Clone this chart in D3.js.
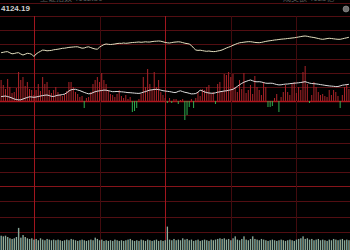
<!DOCTYPE html>
<html>
<head>
<meta charset="utf-8">
<script src="https://cdn.jsdelivr.net/npm/d3@7"></script>
<style>
  html, body { margin: 0; padding: 0; background: #000; overflow: hidden; }
</style>
</head>
<body>
<div id="chart"></div>
<script>
// intraday index chart, values are points above previous close
const prevClose = 4081.69;
const topValue = 4124.19;
const minutes = 160;

const equalChg = [
  24.15, 24.35, 24.6, 24.65, 24.1, 23.6, 23.75, 24.05, 24.15, 23.5,
  23.0, 23.4, 23.85, 23.7, 23.35, 22.25, 23.5, 24.25, 24.85, 25.45,
  25.35, 25.1, 25.2, 25.3, 25.6, 25.75, 25.9, 26.1, 26.35, 26.4,
  26.6, 26.8, 26.9, 27.0, 27.1, 27.1, 26.75, 26.4, 26.5, 26.9,
  27.1, 26.7, 26.3, 26.0, 25.9, 26.9, 27.6, 28.2, 28.5, 28.35,
  28.25, 28.35, 28.5, 28.7, 28.85, 28.8, 29.0, 28.85, 28.95, 29.1,
  29.25, 29.3, 29.4, 29.5, 29.35, 29.45, 29.6, 29.5, 29.5, 29.7,
  29.85, 29.9, 30.0, 29.9, 29.6, 29.3, 29.1, 29.0, 29.2, 29.4,
  29.5, 29.6, 29.5, 29.2, 28.9, 28.7, 28.5, 27.75, 26.5, 25.5,
  25.3, 25.4, 25.2, 25.0, 24.85, 25.0, 24.8, 24.7, 24.75, 25.0,
  25.2, 25.5, 26.0, 26.5, 26.9, 27.3, 27.85, 28.3, 28.75, 29.1,
  29.25, 29.4, 29.55, 29.65, 29.65, 29.5, 29.3, 29.2, 29.15, 29.3,
  29.55, 29.8, 30.0, 30.15, 30.3, 30.5, 30.6, 30.75, 30.9, 31.0,
  31.1, 31.25, 31.35, 31.5, 31.6, 31.8, 32.0, 32.2, 32.4, 32.5,
  32.35, 32.1, 31.9, 31.75, 31.5, 31.25, 31.0, 30.85, 31.0, 31.2,
  31.35, 31.25, 31.1, 30.95, 30.85, 30.85, 31.1, 31.35, 31.6, 31.85
];

const weightedChg = [
  2.2, 2.35, 2.5, 2.2, 1.9, 1.5, 1.0, 0.75, 0.55, 0.6,
  1.0, 1.4, 1.75, 2.1, 2.0, 1.85, 2.0, 2.25, 2.5, 2.7,
  2.9, 3.0, 2.7, 2.35, 2.25, 2.6, 2.9, 3.0, 3.2, 3.45,
  4.1, 5.0, 5.6, 5.8, 5.85, 5.5, 5.2, 4.75, 4.3, 3.9,
  3.6, 3.7, 4.2, 4.65, 4.9, 5.1, 5.25, 5.45, 5.4, 5.15,
  4.9, 4.65, 4.7, 4.75, 4.65, 4.6, 4.5, 4.35, 4.2, 4.15,
  4.05, 3.95, 3.85, 3.8, 4.0, 4.4, 4.7, 5.1, 5.45, 5.6,
  5.75, 5.85, 5.7, 5.45, 5.15, 5.0, 4.85, 4.7, 4.5, 4.25,
  4.3, 4.8, 5.1, 4.7, 4.35, 4.15, 3.85, 3.55, 3.6, 3.75,
  4.4, 5.4, 5.05, 4.55, 4.2, 4.0, 3.9, 3.85, 4.1, 4.4,
  4.6, 4.8, 5.0, 5.1, 5.35, 5.6, 5.85, 6.5, 7.3, 8.1,
  8.8, 9.4, 9.8, 10.2, 10.5, 10.1, 9.7, 9.6, 9.65, 9.5,
  9.2, 8.9, 8.85, 8.9, 8.85, 8.55, 8.25, 8.05, 8.1, 8.3,
  8.45, 8.5, 8.65, 8.8, 8.9, 9.0, 9.1, 9.25, 9.45, 9.65,
  9.3, 8.95, 8.75, 8.65, 8.55, 8.4, 8.2, 8.05, 7.85, 7.7,
  7.55, 7.45, 7.35, 7.2, 7.25, 7.55, 7.9, 8.05, 8.2, 8.35
];

// red (up) / green (down) strength bars
const strength = [
  21, 16, 12, 22, 14, 8, 9, 13, 29, 21,
  24, 15, 19, 12, 11, 6, 11, 17, 10, 24,
  17, 19, 11, 8, 11, 14, 9, 7, 5, 7,
  10, 19, 19, 14, 9, 7, 4, 5, -7, 3,
  4, 9, 17, 21, 24, 19, 28, 21, 17, 11,
  7, 6, 4, 7, 11, 5, 3, 6, 2, 4,
  -11, -10, -7, 2, 7, 24, 14, 32, 17, 11,
  29, 14, 21, 9, 6, 3, -2, 3, -2, 2,
  2, -3, 1, 2, -19, -14, -6, 2, -7, 3,
  9, 5, 12, 11, 14, 16, 7, 9, -3, 17,
  19, 10, 27, 26, 29, 24, 27, 14, 9, 21,
  12, 28, 8, 11, 16, 7, 25, 14, 11, 6,
  19, 14, -6, -6, -5, 3, 7, -11, 4, 9,
  16, 9, 6, 17, 19, 8, 14, 11, 29, 35,
  17, -2, 6, 19, 14, 9, 6, 7, 5, 4,
  11, 6, 11, 9, 5, -7, 6, 14, 17, 12
];

const volume = [
  22, 21, 22, 20, 18, 17, 18, 20, 34, 19,
  23, 20, 18, 17, 18, 16, 17, 15, 18, 16,
  15, 17, 16, 15, 16, 15, 16, 15, 14, 15,
  16, 15, 17, 16, 15, 14, 15, 16, 15, 14,
  15, 16, 15, 19, 17, 15, 16, 14, 15, 14,
  15, 14, 16, 15, 14, 15, 14, 15, 16, 17,
  15, 14, 15, 14, 16, 15, 14, 16, 15, 14,
  15, 16, 14, 15, 14, 15, 36, 16, 15, 17,
  15, 16, 15, 18, 16, 17, 15, 16, 14, 15,
  16, 14, 15, 16, 15, 14, 16, 15, 16, 17,
  18, 17, 18, 16, 17, 15, 18, 21, 16, 15,
  17, 21, 16, 15, 17, 21, 17, 16, 15, 17,
  16, 15, 14, 15, 16, 15, 14, 15, 16, 15,
  14, 15, 16, 15, 14, 16, 17, 18, 21, 17,
  18, 16, 17, 15, 16, 17, 15, 16, 15, 14,
  16, 15, 17, 16, 15, 16, 17, 15, 16, 15
];

const timeMarks = [15, 45, 75, 105, 135];
const strongMarks = [15, 75];
const gridLevels = [-6, -5, -4, -3, -2, -1, 0, 1, 2, 3, 4, 5, 6];
const volumeGrid = [28, 51, 75];
const headerTexts = [
  { x: 40, text: "上证指数 4112.30" },
  { x: 283, text: "成交额 4125亿" }
];

const width = 350;
const height = 250;
const crisp = (v) => Math.round(v) + 0.5;

const svg = d3
  .select("#chart")
  .append("svg")
  .attr("width", width)
  .attr("height", height)
  .style("display", "block")
  .style("background", "#000");

const span = topValue - prevClose;
const x = d3.scaleLinear().domain([0, minutes]).range([0, width]);
const y = d3
  .scaleLinear()
  .domain([prevClose - span, prevClose + span])
  .range([186, 16]);
const yStrength = d3.scaleLinear().domain([-85, 85]).range([186, 16]);
const yVolume = d3.scaleLinear().domain([0, 100]).range([250, 185]);

// header (top row is cut by the frame)
svg
  .selectAll(".head")
  .data(headerTexts)
  .enter()
  .append("text")
  .attr("x", (d) => d.x)
  .attr("y", 1)
  .attr("fill", "#5c5c5c")
  .style("font", "8px 'Noto Sans CJK SC', sans-serif")
  .text((d) => d.text);

svg
  .append("line")
  .attr("x1", 0)
  .attr("x2", width)
  .attr("y1", 3.5)
  .attr("y2", 3.5)
  .attr("stroke", "#520e12");

svg
  .append("text")
  .attr("x", 1)
  .attr("y", 11)
  .attr("fill", "#cfcfcf")
  .style("font", "bold 8px 'Liberation Sans', Arial, sans-serif")
  .text(topValue.toFixed(2));

svg
  .append("circle")
  .attr("cx", 346)
  .attr("cy", 9)
  .attr("r", 3)
  .attr("fill", "#6e6e6e")
  .attr("stroke", "#9a9a9a")
  .attr("stroke-width", 0.6);

// horizontal grid
svg
  .selectAll(".hgrid")
  .data(gridLevels)
  .enter()
  .append("line")
  .attr("x1", 0)
  .attr("x2", width)
  .attr("y1", (d) => crisp(y(prevClose + (d * span) / 6)))
  .attr("y2", (d) => crisp(y(prevClose + (d * span) / 6)))
  .attr("stroke", (d) => (d === 0 ? "#b0161e" : d === -6 ? "#86141a" : "#520e12"))
  .attr("stroke-width", (d) => (d === 0 ? 1.6 : 1));

svg
  .selectAll(".vgridh")
  .data(volumeGrid)
  .enter()
  .append("line")
  .attr("x1", 0)
  .attr("x2", width)
  .attr("y1", (d) => crisp(yVolume(d)))
  .attr("y2", (d) => crisp(yVolume(d)))
  .attr("stroke", "#520e12");

// vertical time lines
svg
  .selectAll(".tgrid")
  .data(timeMarks)
  .enter()
  .append("line")
  .attr("x1", (d) => crisp(x(d + 0.5)))
  .attr("x2", (d) => crisp(x(d + 0.5)))
  .attr("y1", 16)
  .attr("y2", height)
  .attr("stroke", (d) => (strongMarks.includes(d) ? "#a0161e" : "#420b0e"));

// strength bars
svg
  .selectAll(".bar")
  .data(strength)
  .enter()
  .append("rect")
  .attr("x", (d, i) => x(i + 0.5) - 0.5)
  .attr("width", 1)
  .attr("y", (d) => Math.min(yStrength(d), yStrength(0)))
  .attr("height", (d) => Math.abs(yStrength(d) - yStrength(0)))
  .attr("fill", (d) => (d >= 0 ? "#ac2429" : "#2fae4e"));

// lines
const line = (series) =>
  d3
    .line()
    .x((d, i) => x(i + 0.5))
    .y((d) => y(prevClose + d))(series);

svg
  .append("path")
  .attr("d", line(weightedChg))
  .attr("fill", "none")
  .attr("stroke", "#dedede")
  .attr("stroke-width", 1);

svg
  .append("path")
  .attr("d", line(equalChg))
  .attr("fill", "none")
  .attr("stroke", "#e4dfbf")
  .attr("stroke-width", 1);

// volume
const defs = svg.append("defs");
const grad = defs
  .append("linearGradient")
  .attr("id", "volfill")
  .attr("x1", 0)
  .attr("x2", 1)
  .attr("y1", 0)
  .attr("y2", 0);
grad.append("stop").attr("offset", "0%").attr("stop-color", "#4d8f9c");
grad.append("stop").attr("offset", "100%").attr("stop-color", "#c4bf94");

svg
  .selectAll(".vol")
  .data(volume)
  .enter()
  .append("rect")
  .attr("x", (d, i) => x(i + 0.5) - 0.7)
  .attr("width", 1.4)
  .attr("y", (d) => yVolume(d))
  .attr("height", (d) => yVolume(0) - yVolume(d))
  .attr("fill", "url(#volfill)");
</script>
</body>
</html>
